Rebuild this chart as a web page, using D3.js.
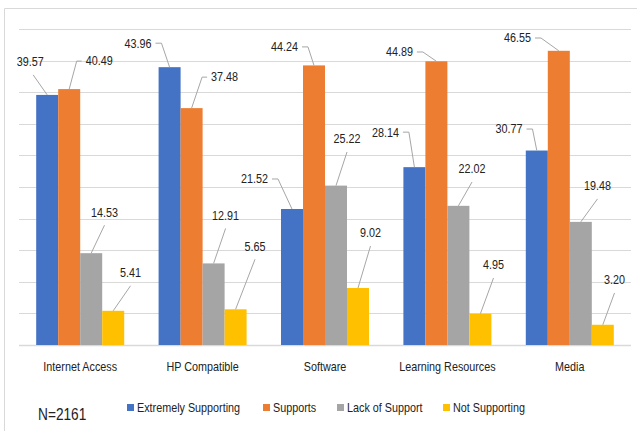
<!DOCTYPE html>
<html>
<head>
<meta charset="utf-8">
<script src="https://cdn.jsdelivr.net/npm/d3@7/dist/d3.min.js"></script>
<style>
  html, body { margin: 0; padding: 0; background: #fff; }
  svg { display: block; font-family: "Liberation Sans", Arial, sans-serif; }
</style>
</head>
<body>
<svg id="chart" width="637" height="431"></svg>
<script>
// Survey responses by resource category (percent), N=2161
const categories = ["Internet Access", "HP Compatible", "Software", "Learning Resources", "Media"];
const seriesNames = ["Extremely Supporting", "Supports", "Lack of Support", "Not Supporting"];
const extremelySupporting = [39.57, 43.96, 21.52, 28.14, 30.77];
const supports = [40.49, 37.48, 44.24, 44.89, 46.55];
const lackOfSupport = [14.53, 12.91, 25.22, 22.02, 19.48];
const notSupporting = [5.41, 5.65, 9.02, 4.95, 3.20];
const yTicks = [0, 5, 10, 15, 20, 25, 30, 35, 40, 45, 50];
const sampleNote = "N=2161";

const seriesValues = [extremelySupporting, supports, lackOfSupport, notSupporting];
const colors = ["#4472C4", "#ED7D31", "#A5A5A5", "#FFC000"];

// Data label placement: offset of the label centre from the bar top,
// and how the leader line attaches ("L" label left of bar, "R" right, "B" from below the label)
const labelPlacement = [
  [[-17, -33, "B"], [30, -28, "R"], [13.3, -41, "B"], [17.3, -38, "B"]],
  [[-31.6, -24, "L"], [33, -31, "R"], [12, -48, "B"], [19.4, -63, "B"]],
  [[-37.5, -30, "L"], [-29.5, -18.5, "L"], [11, -46.6, "B"], [12.5, -55, "B"]],
  [[-29, -35, "L"], [-37, -9.3, "L"], [13.6, -36.8, "B"], [13.1, -48.7, "B"]],
  [[-27.8, -21.5, "L"], [-41.3, -12.8, "L"], [16.7, -36, "B"], [11.7, -44.8, "B"]]
];

// condensed text: horizontal squeeze of the sans face
const squeeze = 0.83;
function addText(parent, x, y, str, size, anchor) {
  return parent.append("text")
    .attr("transform", `translate(${x},${y}) scale(${squeeze},1)`)
    .attr("text-anchor", anchor || "start")
    .attr("dominant-baseline", "central")
    .attr("font-size", size)
    .attr("fill", "#222")
    .text(str);
}

const svg = d3.select("#chart");

// chart frame
svg.append("path")
  .attr("d", "M4.5,431 V8.5 H637")
  .attr("fill", "none")
  .attr("stroke", "#D9D9D9")
  .attr("stroke-width", 1);

const plot = { left: 19, right: 631, top: 29, bottom: 345 };

const y = d3.scaleLinear().domain([0, 50]).range([plot.bottom, plot.top]);
const p = 0.281;
const x0 = d3.scaleBand().domain(categories).range([plot.left, plot.right])
  .paddingInner(p).paddingOuter(p / 2);
const x1 = d3.scaleBand().domain(seriesNames).range([0, x0.bandwidth()]);

// gridlines
svg.append("g").selectAll("line")
  .data(yTicks)
  .join("line")
  .attr("x1", plot.left).attr("x2", plot.right)
  .attr("y1", d => Math.round(y(d)) + 0.5).attr("y2", d => Math.round(y(d)) + 0.5)
  .attr("stroke", "#D9D9D9")
  .attr("stroke-width", d => d === 0 ? 1.5 : 1);

// bars
const rows = [];
categories.forEach((c, ci) => {
  seriesNames.forEach((s, si) => {
    rows.push({ c, ci, s, si, v: seriesValues[si][ci] });
  });
});

svg.append("g").selectAll("rect")
  .data(rows)
  .join("rect")
  .attr("x", d => x0(d.c) + x1(d.s))
  .attr("width", x1.bandwidth())
  .attr("y", d => y(d.v))
  .attr("height", d => y(0) - y(d.v))
  .attr("fill", d => colors[d.si]);

// data labels with leader lines
const labels = svg.append("g");
rows.forEach(d => {
  const bx = x0(d.c) + x1(d.s) + x1.bandwidth() / 2;
  const by = y(d.v);
  const [dx, dy, mode] = labelPlacement[d.ci][d.si];
  const lx = bx + dx, ly = by + dy;
  const text = d.v.toFixed(2);
  const halfW = text.length > 4 ? 13.5 : 10.5;
  let path;
  if (mode === "L") {
    const ex = lx + halfW + 4;
    path = `M${ex},${ly} H${ex + 6} L${bx},${by}`;
  } else if (mode === "R") {
    const ex = lx - halfW - 4;
    path = `M${ex},${ly} H${ex - 5} L${bx},${by}`;
  } else {
    path = `M${lx + (d.ci === 0 && d.si === 0 ? 3 : 0)},${ly + 13} L${bx},${by}`;
  }
  labels.append("path")
    .attr("d", path)
    .attr("fill", "none")
    .attr("stroke", "#A6A6A6")
    .attr("stroke-width", 1);
  addText(labels, lx, ly, text, 13, "middle");
});

// category axis labels
const axisLabels = svg.append("g");
categories.forEach(c => addText(axisLabels, x0(c) + x0.bandwidth() / 2, 367, c, 13, "middle"));

// sample size note
addText(svg, 38, 414, sampleNote, 16.5);

// legend
const legendX = [127, 263, 337, 443];
const legend = svg.append("g");
seriesNames.forEach((s, i) => {
  legend.append("rect")
    .attr("x", legendX[i]).attr("y", 404)
    .attr("width", 7).attr("height", 7)
    .attr("fill", colors[i]);
  addText(legend, legendX[i] + 10, 408, s, 13);
});
</script>
</body>
</html>
